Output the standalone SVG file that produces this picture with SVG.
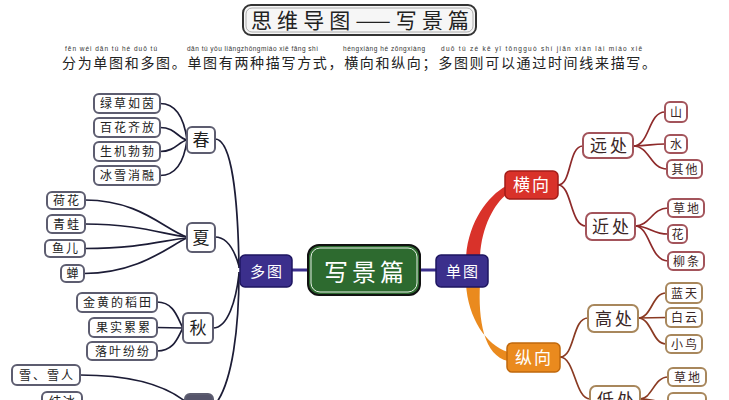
<svg xmlns="http://www.w3.org/2000/svg" width="729" height="400" viewBox="0 0 729 400">
<style>
text{font-family:"Noto Sans CJK SC","Noto Sans",sans-serif;text-anchor:middle;fill:#222}
.py{font-family:"Liberation Sans",sans-serif;font-size:6.5px;fill:#333;text-anchor:start}
.lb rect{fill:#fff;stroke:#5d5d70;stroke-width:2}
.lb text{font-size:12px;letter-spacing:2px}
.sn rect{fill:#fff;stroke:#5d5d70;stroke-width:2}
.sn text{font-size:17px}
.rk rect{fill:#fff;stroke:#a3545b;stroke-width:2}
.rk2 rect{fill:#fff;stroke:#a8875c;stroke-width:2}
.mid text{font-size:17px;fill:#3a2626;letter-spacing:3px}
.rl text{font-size:12px;fill:#3a2626;letter-spacing:2px}
.cl{fill:none;stroke:#1c1c36;stroke-width:1.7}
.cr{fill:none;stroke:#8e2a2a;stroke-width:1.7}
.cb{fill:none;stroke:#8a3a22;stroke-width:1.7}
.pu rect{fill:#3b2f8c;stroke:#1e1660;stroke-width:1.5}
.pu text{font-size:15px;fill:#fff;letter-spacing:2px}
</style>
<rect width="729" height="400" fill="#fff"/>
<g id="title">
<rect x="243" y="5" width="233" height="30" rx="8" fill="#f6f6f6" stroke="#333" stroke-width="2"/>
<rect x="246" y="8" width="227" height="24" rx="6" fill="none" stroke="#999" stroke-width="0.8"/>
<text x="360" y="28" font-size="21" textLength="218">思维导图——写景篇</text>
</g>
<g id="desc">
<text class="py" x="65" y="51" textLength="92">fēn wéi dān tú hé duō tú</text>
<text class="py" x="187" y="51" textLength="131">dān tú yǒu liǎngzhǒngmiáo xiě fāng shì</text>
<text class="py" x="343" y="51" textLength="82">héngxiàng hé zōngxiàng</text>
<text class="py" x="441" y="51" textLength="201">duō tú zé kě yǐ tōngguò shí jiān xiàn lái miáo xiě</text>
<text x="62" y="68" font-size="14" style="text-anchor:start" textLength="594">分为单图和多图。单图有两种描写方式，横向和纵向；多图则可以通过时间线来描写。</text>
</g>
<g id="connectors">
<line x1="292" y1="270" x2="308" y2="270" stroke="#3b2f8c" stroke-width="3"/>
<line x1="420" y1="270" x2="436" y2="270" stroke="#3b2f8c" stroke-width="3"/>
<path class="cl" d="M215,139 C232,139 238,200 239,268"/>
<path class="cl" d="M215,237 C228,237 235,252 239,266"/>
<path class="cl" d="M213,328 C228,328 236,300 239,274"/>
<path class="cl" d="M239,272 C239,330 232,380 217,402"/>
<path class="cl" d="M160,103.5 C180,103.5 185,125 187,140"/>
<path class="cl" d="M160,127.5 C175,127.5 178,138 187,140"/>
<path class="cl" d="M160,151.5 C175,151.5 178,142 187,140"/>
<path class="cl" d="M160,175.5 C180,175.5 185,155 187,140"/>
<path class="cl" d="M85,200 C140,200 165,230 187,237"/>
<path class="cl" d="M85,224 C140,224 165,235 187,237"/>
<path class="cl" d="M85,248.5 C140,248.5 165,240 187,238"/>
<path class="cl" d="M84,273.5 C140,273.5 170,245 187,238"/>
<path class="cl" d="M157,302 C175,302 178,320 183,328"/>
<path class="cl" d="M157,327.5 L183,328"/>
<path class="cl" d="M157,351 C175,351 178,336 183,328"/>
<path class="cl" d="M80,375 C130,375 165,385 186,402"/>
<path class="cl" d="M82,401 L186,404"/>
<path d="M506,186 C488,196 468,222 466,258 L480,258 C481,228 494,204 507,194 Z" fill="#d9322a"/>
<path d="M466,284 C468,318 486,345 508,352 L508,361 C484,356 478,320 480,284 Z" fill="#ea8a1e"/>
<path class="cr" d="M558,185 C572,185 568,146 583,146"/>
<path class="cr" d="M558,185 C572,185 570,226 586,226"/>
<path class="cr" d="M633,146 C650,146 648,112 665,112"/>
<path class="cr" d="M633,146 C650,146 650,144 665,144"/>
<path class="cr" d="M633,146 C650,146 650,169 667,169"/>
<path class="cr" d="M635,226 C650,226 652,208 668,208"/>
<path class="cr" d="M635,226 C650,226 652,234 668,234"/>
<path class="cr" d="M635,226 C650,226 650,261 668,261"/>
<path class="cb" d="M560,357 C575,357 572,318 588,318"/>
<path class="cb" d="M560,357 C575,357 575,399 590,399"/>
<path class="cb" d="M638,318 C652,318 652,293 666,293"/>
<path class="cb" d="M638,318 L666,317.5"/>
<path class="cb" d="M638,318 C652,318 652,344 666,344"/>
<path class="cb" d="M640,399 C652,399 654,377 668,377"/>
<path class="cb" d="M640,399 C652,399 654,402 668,402"/>
</g>
<g id="center">
<rect x="308" y="245" width="112" height="50" rx="11" fill="#2d6a2f" stroke="#111" stroke-width="2"/>
<rect x="311" y="248" width="106" height="44" rx="9" fill="none" stroke="#e8f0e8" stroke-width="1"/>
<text x="366" y="281" font-size="24" fill="#fff" style="fill:#fff;letter-spacing:4px">写景篇</text>
</g>
<g id="duotu" class="pu"><rect x="240" y="255" width="52" height="32" rx="5"/><text x="267" y="277">多图</text></g>
<g id="dantu" class="pu"><rect x="436" y="255" width="52" height="32" rx="5"/><text x="463" y="277">单图</text></g>
<g id="chun" class="sn"><rect x="187" y="127" width="28" height="26" rx="5"/><text x="201" y="146">春</text></g>
<g id="xia" class="sn"><rect x="187" y="223" width="28" height="29" rx="5"/><text x="201" y="244">夏</text></g>
<g id="qiu" class="sn"><rect x="183" y="313" width="30" height="30" rx="5"/><text x="198" y="334">秋</text></g>
<g id="dong" class="sn"><rect x="185" y="394" width="28" height="28" rx="5" style="fill:#55546a"/></g>
<g id="l1" class="lb"><rect x="94" y="94" width="66" height="19" rx="5"/><text x="128" y="108">绿草如茵</text></g>
<g id="l2" class="lb"><rect x="94" y="118" width="66" height="19" rx="5"/><text x="128" y="132">百花齐放</text></g>
<g id="l3" class="lb"><rect x="94" y="142" width="66" height="19" rx="5"/><text x="128" y="156">生机勃勃</text></g>
<g id="l4" class="lb"><rect x="94" y="166" width="66" height="19" rx="5"/><text x="128" y="180">冰雪消融</text></g>
<g id="l5" class="lb"><rect x="47" y="192" width="38" height="17" rx="5"/><text x="67" y="205">荷花</text></g>
<g id="l6" class="lb"><rect x="47" y="215" width="38" height="18" rx="5"/><text x="67" y="228.5">青蛙</text></g>
<g id="l7" class="lb"><rect x="45" y="240" width="40" height="17" rx="5"/><text x="66" y="253">鱼儿</text></g>
<g id="l8" class="lb"><rect x="61" y="265" width="23" height="17" rx="5"/><text x="73.5" y="278">蝉</text></g>
<g id="l9" class="lb"><rect x="77" y="293" width="80" height="19" rx="5"/><text x="118" y="307">金黄的稻田</text></g>
<g id="l10" class="lb"><rect x="89" y="318" width="68" height="19" rx="5"/><text x="124" y="332">果实累累</text></g>
<g id="l11" class="lb"><rect x="87" y="342" width="70" height="18" rx="5"/><text x="123" y="355.5">落叶纷纷</text></g>
<g id="l12" class="lb"><rect x="12" y="365" width="68" height="20" rx="5"/><text x="47" y="379.5">雪、雪人</text></g>
<g id="l13" class="lb"><rect x="42" y="392" width="40" height="20" rx="5"/><text x="63" y="406">结冰</text></g>
<g id="hengxiang"><rect x="505" y="171" width="53" height="28" rx="5" fill="#d9322a" stroke="#a31d18" stroke-width="1.5"/><text x="532" y="191" font-size="17" style="fill:#fff;letter-spacing:2px">横向</text></g>
<g id="zongxiang"><rect x="507" y="343" width="53" height="29" rx="5" fill="#ea8a1e" stroke="#c0680c" stroke-width="1.5"/><text x="534" y="363.5" font-size="17" style="fill:#fff;letter-spacing:2px">纵向</text></g>
<g id="yuanchu" class="rk mid"><rect x="583" y="133" width="50" height="25" rx="6"/><text x="610" y="151.5">远处</text></g>
<g id="jinchu" class="rk mid"><rect x="586" y="213" width="49" height="27" rx="6"/><text x="612" y="232.5">近处</text></g>
<g id="gaochu" class="rk2 mid"><rect x="588" y="305" width="50" height="27" rx="6"/><text x="615" y="324.5">高处</text></g>
<g id="dichu" class="rk2 mid"><rect x="590" y="386" width="50" height="27" rx="6"/><text x="617" y="405.5">低处</text></g>
<g id="r1" class="rk rl"><rect x="665" y="102" width="22" height="20" rx="5"/><text x="677" y="116.5">山</text></g>
<g id="r2" class="rk rl"><rect x="665" y="135" width="22" height="18" rx="5"/><text x="677" y="148.5">水</text></g>
<g id="r3" class="rk rl"><rect x="667" y="160" width="35" height="18" rx="5"/><text x="685.5" y="173.5">其他</text></g>
<g id="r4" class="rk rl"><rect x="668" y="199" width="36" height="18" rx="5"/><text x="687" y="212.5">草地</text></g>
<g id="r5" class="rk rl"><rect x="668" y="225" width="19" height="18" rx="5"/><text x="678.5" y="238.5">花</text></g>
<g id="r6" class="rk rl"><rect x="668" y="252" width="36" height="18" rx="5"/><text x="687" y="265.5">柳条</text></g>
<g id="r7" class="rk2 rl"><rect x="666" y="283" width="36" height="20" rx="5"/><text x="685" y="297.5">蓝天</text></g>
<g id="r8" class="rk2 rl"><rect x="666" y="308" width="36" height="19" rx="5"/><text x="685" y="322">白云</text></g>
<g id="r9" class="rk2 rl"><rect x="666" y="335" width="36" height="18" rx="5"/><text x="685" y="348.5">小鸟</text></g>
<g id="r10" class="rk2 rl"><rect x="668" y="368" width="38" height="18" rx="5"/><text x="688" y="381.5">草地</text></g>
<g id="r11" class="rk2 rl"><rect x="668" y="393" width="38" height="18" rx="5"/></g>
</svg>
